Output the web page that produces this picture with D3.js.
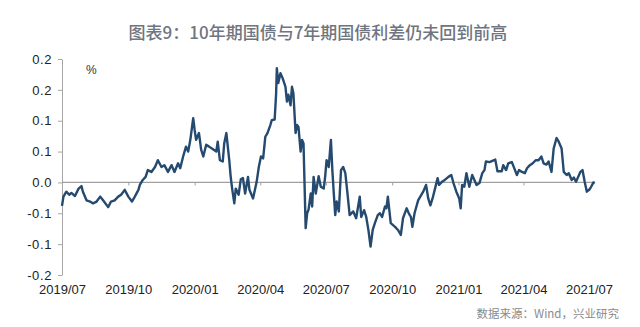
<!DOCTYPE html>
<html>
<head>
<meta charset="utf-8">
<script src="https://cdn.jsdelivr.net/npm/d3@7"></script>
<style>
  html, body { margin: 0; padding: 0; background: #ffffff; }
  svg { display: block; }
</style>
</head>
<body>
<svg id="chart" width="640" height="327"></svg>
<script>
const titleText = "图表9：10年期国债与7年期国债利差仍未回到前高";
const sourceText = "数据来源：Wind，兴业研究";
const unitText = "%";

const dates = [
"2019-07-01","2019-07-03","2019-07-07","2019-07-11","2019-07-14","2019-07-19","2019-07-24","2019-07-28","2019-07-30",
"2019-08-04","2019-08-09","2019-08-13","2019-08-18","2019-08-23","2019-08-27","2019-09-03","2019-09-07","2019-09-12",
"2019-09-17","2019-09-21","2019-09-26","2019-10-01","2019-10-06","2019-10-10","2019-10-15","2019-10-17","2019-10-21",
"2019-10-25","2019-10-28","2019-11-02","2019-11-07","2019-11-11","2019-11-16","2019-11-20","2019-11-25","2019-11-30",
"2019-12-04","2019-12-09","2019-12-12","2019-12-16","2019-12-20","2019-12-23","2019-12-26","2019-12-30","2020-01-01",
"2020-01-03","2020-01-07","2020-01-10","2020-01-13","2020-01-17","2020-01-21","2020-01-26","2020-01-31","2020-02-02",
"2020-02-05","2020-02-09","2020-02-11","2020-02-14","2020-02-18","2020-02-20","2020-02-22","2020-02-25","2020-02-27",
"2020-03-02","2020-03-05","2020-03-08","2020-03-11","2020-03-15","2020-03-17","2020-03-22","2020-03-27","2020-03-30",
"2020-04-02","2020-04-05","2020-04-08","2020-04-11","2020-04-15","2020-04-17","2020-04-21","2020-04-23","2020-04-24",
"2020-04-26","2020-04-29","2020-05-02","2020-05-06","2020-05-08","2020-05-10","2020-05-13","2020-05-15","2020-05-17",
"2020-05-20","2020-05-22","2020-05-24","2020-05-27","2020-05-29","2020-05-31","2020-06-03","2020-06-05","2020-06-07",
"2020-06-10","2020-06-12","2020-06-14","2020-06-17","2020-06-21","2020-06-24","2020-06-28","2020-06-30","2020-07-02",
"2020-07-05","2020-07-08","2020-07-10","2020-07-12","2020-07-14","2020-07-16","2020-07-19","2020-07-22","2020-07-25",
"2020-07-28","2020-07-31","2020-08-03","2020-08-08","2020-08-12","2020-08-17","2020-08-19","2020-08-23","2020-08-26",
"2020-08-29","2020-09-01","2020-09-04","2020-09-07","2020-09-11","2020-09-14","2020-09-17","2020-09-21","2020-09-23",
"2020-09-25","2020-09-29","2020-10-05","2020-10-09","2020-10-13","2020-10-16","2020-10-21","2020-10-24","2020-10-27",
"2020-10-29","2020-11-01","2020-11-06","2020-11-08","2020-11-13","2020-11-17","2020-11-20","2020-11-23","2020-11-26",
"2020-11-29","2020-12-03","2020-12-05","2020-12-09","2020-12-13","2020-12-18","2020-12-22","2020-12-25","2020-12-29",
"2021-01-02","2021-01-04","2021-01-06","2021-01-09","2021-01-12","2021-01-16","2021-01-20","2021-01-23","2021-01-26",
"2021-01-30","2021-02-03","2021-02-06","2021-02-08","2021-02-13","2021-02-17","2021-02-21","2021-02-24","2021-03-02",
"2021-03-04","2021-03-08","2021-03-11","2021-03-16","2021-03-19","2021-03-23","2021-03-26","2021-03-30","2021-04-03",
"2021-04-06","2021-04-10","2021-04-14","2021-04-18","2021-04-22","2021-04-26","2021-04-29","2021-05-03","2021-05-06",
"2021-05-10","2021-05-13","2021-05-17","2021-05-20","2021-05-24","2021-05-27","2021-05-31","2021-06-03","2021-06-07",
"2021-06-10","2021-06-13","2021-06-16","2021-06-19","2021-06-22","2021-06-25","2021-06-28","2021-07-02","2021-07-04",
"2021-07-07","2021-07-09"
];

const spread = [
-0.038,-0.023,-0.015,-0.020,-0.017,-0.022,-0.010,-0.006,-0.015,
-0.029,-0.031,-0.034,-0.031,-0.023,-0.029,-0.040,-0.031,-0.029,
-0.023,-0.020,-0.012,-0.023,-0.031,-0.023,-0.012,-0.004,0.004,
0.009,0.020,0.017,0.025,0.036,0.025,0.028,0.017,0.028,
0.017,0.031,0.023,0.042,0.058,0.050,0.069,0.104,0.085,
0.069,0.080,0.053,0.042,0.061,0.058,0.054,0.050,0.066,
0.036,0.034,0.063,0.080,0.036,0.009,-0.010,-0.034,-0.010,
-0.020,0.005,0.007,-0.018,0.009,-0.012,-0.026,0.001,0.025,
0.042,0.039,0.074,0.080,0.093,0.101,0.102,0.144,0.185,
0.161,0.177,0.169,0.155,0.131,0.142,0.125,0.155,0.144,
0.080,0.093,0.090,0.050,0.069,0.063,-0.074,-0.050,-0.044,
-0.018,-0.039,0.009,-0.018,0.010,-0.007,-0.010,0.009,0.036,
0.025,0.069,0.020,-0.018,-0.053,-0.031,-0.047,0.020,0.025,
0.015,-0.018,-0.053,-0.047,-0.058,-0.023,-0.056,-0.045,-0.056,
-0.077,-0.104,-0.077,-0.066,-0.053,-0.050,-0.056,-0.039,-0.042,
-0.023,-0.066,-0.072,-0.077,-0.085,-0.058,-0.042,-0.050,-0.056,
-0.072,-0.050,-0.029,-0.025,-0.015,-0.004,-0.026,-0.037,-0.026,
-0.012,0.007,-0.004,0.001,0.004,0.009,0.012,-0.001,-0.015,
-0.026,-0.042,-0.004,-0.007,0.015,-0.007,0.012,0.004,-0.004,
-0.001,0.015,0.020,0.034,0.033,0.035,0.037,0.018,0.018,
0.028,0.020,0.031,0.033,0.024,0.012,0.020,0.017,0.015,
0.023,0.028,0.031,0.036,0.036,0.042,0.031,0.029,0.034,
0.017,0.055,0.072,0.066,0.055,0.017,0.012,0.015,0.004,
0.008,0.001,0.009,0.017,0.020,0.001,-0.015,-0.011,-0.007,
0.000,-0.001
];

const yTickValues = [0.20, 0.15, 0.10, 0.05, 0.00, -0.05, -0.10, -0.15];
const yTickLabels = ["0.2", "0.2", "0.1", "0.1", "0.0", "-0.1", "-0.1", "-0.2"];
const xTickDates = ["2019-07-01","2019-10-01","2020-01-01","2020-04-01","2020-07-01","2020-10-01","2021-01-01","2021-04-01","2021-07-01"];
const xTickLabels = ["2019/07","2019/10","2020/01","2020/04","2020/07","2020/10","2021/01","2021/04","2021/07"];

(function () {
const parse = d3.timeParse("%Y-%m-%d");
const data = dates.map((d, i) => ({ date: parse(d), value: spread[i] }));
const xTicks = xTickDates.map(parse);

const svg = d3.select("#chart");
const mLeft = 62, mRight = 589, mTop = 59, mBottom = 275;

const x = d3.scaleTime().domain([xTicks[0], xTicks[xTicks.length - 1]]).range([mLeft, mRight]);
const y = d3.scaleLinear().domain([-0.15, 0.20]).range([mBottom, mTop]);

const cjk = "'Noto Sans CJK SC', 'Noto Sans', sans-serif";
const axisFont = "'Liberation Sans', Arial, sans-serif";

// Title
svg.append("text")
  .attr("x", 318).attr("y", 31)
  .attr("text-anchor", "middle").attr("dominant-baseline", "central")
  .attr("font-family", cjk).attr("font-size", 17).attr("font-weight", 500)
  .attr("fill", "#6f7580")
  .text(titleText);

// Y axis
const yAxis = d3.axisLeft(y)
  .tickValues(yTickValues)
  .tickFormat((d, i) => yTickLabels[i])
  .tickSize(4).tickSizeOuter(0).tickPadding(6);
const gy = svg.append("g").attr("transform", `translate(${mLeft},0)`).call(yAxis);
gy.select(".domain").attr("stroke", "#a6a6a6").attr("stroke-width", 1);
gy.selectAll(".tick line").attr("stroke", "#a6a6a6");
gy.selectAll(".tick text")
  .attr("font-family", axisFont).attr("font-size", 13)
  .attr("letter-spacing", "0.6px").attr("fill", "#222");

// Zero line with small ticks
const xEnd = x(data[data.length - 1].date);
svg.append("line")
  .attr("x1", mLeft).attr("x2", xEnd)
  .attr("y1", y(0)).attr("y2", y(0))
  .attr("stroke", "#a0a0a0").attr("stroke-width", 1.2);
const xTickAxis = d3.axisBottom(x).tickValues(xTicks.slice(1, -1)).tickFormat("").tickSize(3).tickSizeOuter(0);
const gxt = svg.append("g").attr("transform", `translate(0,${y(0)})`).call(xTickAxis);
gxt.select(".domain").remove();
gxt.selectAll(".tick line").attr("stroke", "#a0a0a0");

// X labels at bottom
const xLabelAxis = d3.axisBottom(x).tickValues(xTicks)
  .tickFormat((d, i) => xTickLabels[i]).tickSize(0).tickPadding(10);
const gx = svg.append("g").attr("transform", `translate(0,${mBottom})`).call(xLabelAxis);
gx.select(".domain").remove();
gx.selectAll(".tick text")
  .attr("font-family", axisFont).attr("font-size", 13).attr("fill", "#222");

// Unit
svg.append("text")
  .attr("x", 86).attr("y", 70)
  .attr("dominant-baseline", "central")
  .attr("font-family", axisFont).attr("font-size", 12).attr("fill", "#333")
  .text(unitText);

// Line
const line = d3.line().x(d => x(d.date)).y(d => y(d.value));
svg.append("path")
  .datum(data)
  .attr("d", line)
  .attr("fill", "none")
  .attr("stroke", "#254a6f")
  .attr("stroke-width", 2.4)
  .attr("stroke-linejoin", "round");

// Source
svg.append("text")
  .attr("x", 619).attr("y", 313)
  .attr("text-anchor", "end").attr("dominant-baseline", "central")
  .attr("font-family", cjk).attr("font-size", 11.5).attr("fill", "#8a8a8a")
  .text(sourceText);
})();
</script>
</body>
</html>
